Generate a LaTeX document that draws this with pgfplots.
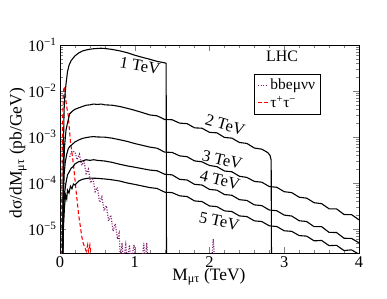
\documentclass[border=0pt]{standalone}
\usepackage{pgfplots}
\pgfplotsset{compat=1.18}
\usepackage{fontspec}
\setmainfont{Liberation Serif}
\definecolor{bbecol}{RGB}{130,30,110}
\begin{document}
\begin{tikzpicture}
\begin{axis}[
  at={(0,0)}, anchor=south west,
  width=299bp, height=208bp, scale only axis,
  xmin=0, xmax=4, ymin=3e-6, ymax=0.1,
  ymode=log, log basis y=10,
  xtick={0,1,2,3,4}, minor x tick num=4,
  tick align=inside,
  major tick length=6bp, minor tick length=3bp,
  /pgf/number format/assume math mode=true,
  yticklabel={10\textsuperscript{−\pgfmathparse{int(round(-\tick))}\pgfmathresult}},
  xticklabel style={font=\fontsize{16.5}{18}\selectfont},
  yticklabel style={font=\fontsize{16}{18}\selectfont},
  label style={font=\fontsize{17.5}{19}\selectfont},
  xlabel={M\textsubscript{μτ} (TeV)},
  ylabel={dσ/dM\textsubscript{μτ} (pb/GeV)},
  xlabel style={at={(axis description cs:0.498,-0.115)}, anchor=center},
  ylabel style={at={(axis description cs:-0.14,0.48)}, anchor=center},
  legend style={at={(axis description cs:0.649,0.861)}, anchor=north west,
    font=\fontsize{15.5}{17}\selectfont, draw=black, line width=0.5bp,
    inner xsep=3bp, inner ysep=3bp, row sep=1bp},
  legend cell align=left,
  legend image code/.code={\draw[#1] (0bp,0bp) -- (10bp,0bp);},
]
% bbe mu nu nu (dotted)
\addplot[bbecol, line width=1.2bp, dash pattern=on 1bp off 1.6bp] coordinates {
(0.13,3.7e-4)(0.16,5.0e-4)(0.2,4.7e-4)(0.23,3.2e-4)(0.26,4.2e-4)(0.29,2.4e-4)
(0.32,3.0e-4)(0.35,1.6e-4)(0.38,2.0e-4)(0.41,1.0e-4)(0.44,1.3e-4)(0.47,6.5e-5)
(0.5,8.0e-5)(0.53,3.8e-5)(0.56,5.0e-5)(0.59,2.5e-5)(0.62,3.2e-5)(0.65,1.5e-5)
(0.68,2.0e-5)(0.71,9e-6)(0.74,1.3e-5)(0.77,6e-6)(0.79,8e-6)(0.81,2e-6)
(0.83,5e-6)(0.85,2e-6)(0.88,4.5e-6)(0.9,2e-6)(0.93,4.5e-6)(0.95,2e-6)
(0.99,4.5e-6)(1.01,2e-6)(1.1,2e-6)(1.12,5e-6)(1.14,2e-6)(1.16,5e-6)(1.18,2e-6)
(2.03,2e-6)(2.05,6e-6)(2.07,2e-6)
};
\addlegendentry{bbeμνν}
% tau tau (dashed)
\addplot[red, line width=1.1bp, dash pattern=on 4bp off 2.5bp] coordinates {
(0.02,2e-6)(0.025,1e-4)(0.035,2e-3)(0.045,9e-3)(0.055,1.25e-2)(0.066,1.1e-2)
(0.08,6e-3)(0.095,4e-3)(0.11,3e-3)(0.125,1.5e-3)(0.14,8e-4)(0.16,4.5e-4)
(0.18,2.5e-4)(0.2,1.2e-4)(0.21,8e-5)(0.23,4e-5)(0.25,2e-5)(0.27,1.2e-5)
(0.29,7e-6)(0.31,5e-6)(0.33,4e-6)(0.35,3.3e-6)(0.37,4.5e-6)(0.38,3.2e-6)
(0.4,4.5e-6)(0.41,3.2e-6)(0.42,2e-6)
};
\addlegendentry{τ\textsuperscript{+}τ\textsuperscript{−}}
% 1 TeV
\addplot[black, line width=1.1bp] coordinates {
(0.035,2e-6)(0.045,5e-4)(0.055,4e-3)(0.065,8e-3)(0.08,1.4e-2)(0.09,1.9e-2)
(0.1,2.6e-2)(0.12,3.6e-2)(0.15,4.6e-2)(0.2,5.8e-2)(0.25,6.7e-2)(0.3,7.4e-2)
(0.35,7.8e-2)(0.4,8.1e-2)(0.45,8.3e-2)(0.5,8.4e-2)(0.55,8.5e-2)(0.6,8.4e-2)
(0.7,8.0e-2)(0.8,7.45e-2)(0.9,6.8e-2)(1.0,6.0e-2)(1.1,5.4e-2)(1.2,4.9e-2)
(1.3,4.4e-2)(1.4,4.1e-2)(1.42,4.0e-2)(1.425,1e-6)
};
% 2 TeV
\addplot[black, line width=1.1bp] coordinates {
(0.035,2e-6)(0.045,1e-4)(0.06,6e-4)(0.08,1.4e-3)(0.1,2.0e-3)(0.13,3.2e-3)
(0.17,3.7e-3)(0.2,4.0e-3)(0.25,4.3e-3)(0.3,4.6e-3)(0.35,4.9e-3)(0.4,5.0e-3)
(0.45,5.2e-3)(0.5,5.1e-3)(0.55,5.2e-3)(0.6,5.0e-3)(0.7,4.9e-3)(0.8,4.6e-3)
(0.9,4.2e-3)(1.0,3.8e-3)(1.1,3.4e-3)(1.2,3.02e-3)(1.3,2.88e-3)(1.4,2.40e-3)
(1.5,2.37e-3)(1.6,2.00e-3)(1.7,1.95e-3)(1.8,1.58e-3)(1.9,1.55e-3)(2.0,1.26e-3)
(2.1,1.23e-3)(2.2,9.77e-4)(2.3,9.44e-4)(2.4,7.59e-4)(2.5,7.24e-4)(2.6,5.75e-4)
(2.7,5.43e-4)(2.78,4.57e-4)(2.81,3.98e-4)(2.825,3.16e-4)(2.83,1e-6)
};
% 3 TeV
\addplot[black, line width=1.1bp] coordinates {
(0.035,2e-6)(0.045,4e-5)(0.055,1.5e-4)(0.07,2.8e-4)(0.09,4.2e-4)(0.11,5.5e-4)
(0.13,6.2e-4)(0.16,6.8e-4)(0.2,7.8e-4)(0.25,8.6e-4)(0.3,9.3e-4)(0.35,9.7e-4)
(0.4,1.0e-3)(0.45,1.02e-3)(0.5,1.0e-3)(0.6,9.9e-4)(0.7,9.4e-4)(0.8,8.7e-4)
(0.9,8.0e-4)(1.0,7.2e-4)(1.1,6.6e-4)(1.2,6.03e-4)(1.3,5.69e-4)(1.4,4.68e-4)
(1.5,4.62e-4)(1.6,3.89e-4)(1.7,3.72e-4)(1.8,3.02e-4)(1.9,2.88e-4)(2.0,2.40e-4)
(2.1,2.26e-4)(2.2,1.82e-4)(2.3,1.75e-4)(2.4,1.40e-4)(2.5,1.32e-4)(2.6,1.08e-4)
(2.7,1.04e-4)(2.8,8.36e-5)(2.9,8.05e-5)(3.0,6.46e-5)(3.1,6.17e-5)(3.2,4.90e-5)
(3.3,4.68e-5)(3.4,3.72e-5)(3.5,3.55e-5)(3.6,2.74e-5)(3.7,2.73e-5)(3.8,2.06e-5)
(3.9,2.05e-5)(4.0,1.58e-5)
};
% 4 TeV
\addplot[black, line width=1.1bp] coordinates {
(0.035,2e-6)(0.045,1.5e-5)(0.06,6e-5)(0.08,1.0e-4)(0.1,1.5e-4)(0.12,1.7e-4)
(0.15,2.1e-4)(0.18,2.3e-4)(0.2,2.6e-4)(0.25,2.9e-4)(0.3,3.0e-4)(0.35,3.2e-4)
(0.4,3.1e-4)(0.45,3.2e-4)(0.5,3.1e-4)(0.6,3.0e-4)(0.7,2.8e-4)(0.8,2.55e-4)
(0.9,2.35e-4)(1.0,2.2e-4)(1.1,2.05e-4)(1.2,1.91e-4)(1.3,1.84e-4)(1.4,1.55e-4)
(1.5,1.50e-4)(1.6,1.20e-4)(1.7,1.16e-4)(1.8,9.33e-5)(1.9,9.02e-5)(2.0,7.24e-5)
(2.1,6.98e-5)(2.2,5.60e-5)(2.3,5.40e-5)(2.4,4.33e-5)(2.5,4.17e-5)(2.6,3.34e-5)
(2.7,3.22e-5)(2.8,2.58e-5)(2.9,2.49e-5)(3.0,2.00e-5)(3.1,1.91e-5)(3.2,1.51e-5)
(3.3,1.45e-5)(3.4,1.12e-5)(3.5,1.12e-5)(3.6,8.43e-6)(3.7,8.36e-6)(3.8,6.28e-6)
(3.9,6.22e-6)(4.0,5.0e-6)
};
% 5 TeV
\addplot[black, line width=1.1bp] coordinates {
(0.035,2e-6)(0.045,1e-5)(0.06,3e-5)(0.075,5.5e-5)(0.09,4.5e-5)(0.1,7e-5)
(0.12,6e-5)(0.14,8.5e-5)(0.16,7.5e-5)(0.18,9.5e-5)(0.2,9e-5)(0.25,1.1e-4)
(0.3,1.2e-4)(0.35,1.25e-4)(0.4,1.28e-4)(0.5,1.26e-4)(0.6,1.22e-4)(0.7,1.17e-4)
(0.8,1.1e-4)(0.9,1.0e-4)(1.0,9.3e-5)(1.1,8.6e-5)(1.2,7.94e-5)(1.3,7.59e-5)
(1.4,6.31e-5)(1.5,6.17e-5)(1.6,5.25e-5)(1.7,5.07e-5)(1.8,4.07e-5)(1.9,3.94e-5)
(2.0,3.16e-5)(2.1,3.06e-5)(2.2,2.47e-5)(2.3,2.39e-5)(2.4,1.92e-5)(2.5,1.86e-5)
(2.6,1.50e-5)(2.7,1.45e-5)(2.8,1.17e-5)(2.9,1.13e-5)(3.0,9.12e-6)(3.1,8.87e-6)
(3.2,7.18e-6)(3.3,6.98e-6)(3.4,5.52e-6)(3.5,5.62e-6)(3.6,4.34e-6)(3.7,4.40e-6)
(3.8,3.39e-6)(3.9,3.51e-6)(4.0,2.82e-6)
};
\node[font=\fontsize{16.5}{18}\selectfont, rotate=-10] at (axis cs:1.07,3.5e-2) {1 TeV};
\node[font=\fontsize{16.5}{18}\selectfont, rotate=-16] at (axis cs:2.21,1.85e-3) {2 TeV};
\node[font=\fontsize{16.5}{18}\selectfont, rotate=-13] at (axis cs:2.17,3.2e-4) {3 TeV};
\node[font=\fontsize{16.5}{18}\selectfont, rotate=-13] at (axis cs:2.14,1.15e-4) {4 TeV};
\node[font=\fontsize{16.5}{18}\selectfont, rotate=-12] at (axis cs:2.13,1.48e-5) {5 TeV};
\node[font=\fontsize{16}{18}\selectfont] at (axis cs:2.97,5.6e-2) {LHC};
\end{axis}
\pgfresetboundingbox
\path[use as bounding box] (-60bp,-46bp) rectangle (327bp,253bp);
\end{tikzpicture}
\end{document}
